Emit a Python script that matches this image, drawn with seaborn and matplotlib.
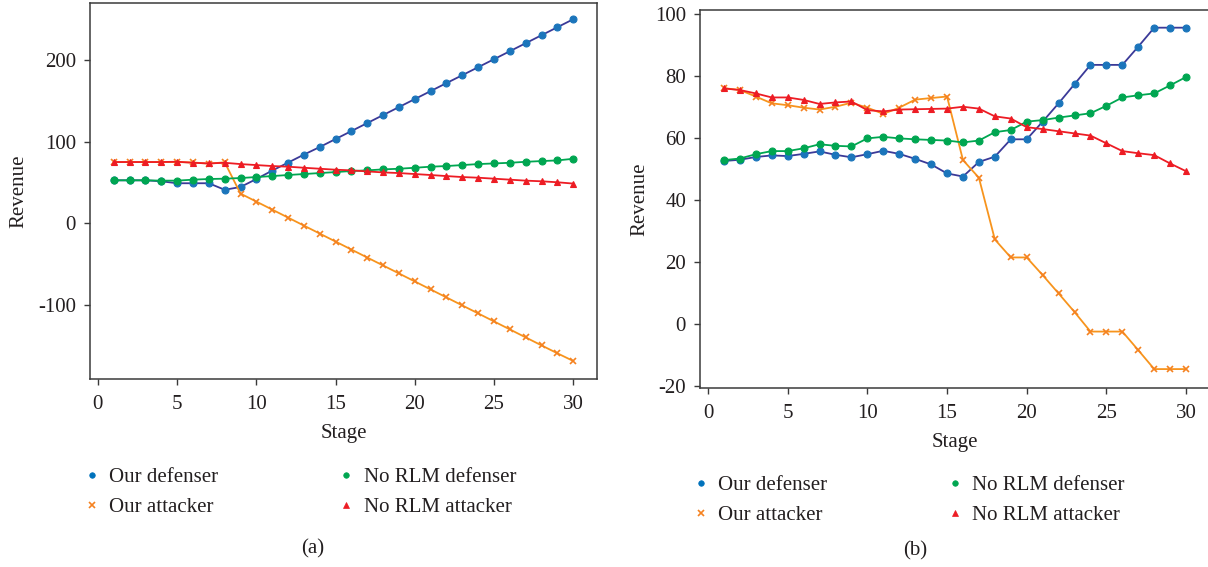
import numpy as np
import pandas as pd
import matplotlib
matplotlib.use("Agg")
import matplotlib.pyplot as plt
from matplotlib.lines import Line2D
import seaborn as sns

# ---------------- data ----------------
stages = list(range(1, 31))

a_our_def = [52.6, 52.6, 52.6, 51.4, 49, 49, 49, 41, 44.4, 54.2, 64.5, 74.3, 84.1, 93.4, 103.2,
             113, 122.8, 132.6, 142.4, 152.2, 162, 171.8, 181.5, 191.3, 201.1, 210.9, 220.7, 230.5, 240.3, 250.1]
a_our_att = [75, 75, 75, 75, 75, 74.5, 73, 74.7, 36.3, 26.5, 16.7, 6.9, -2.9, -12.7, -22.5,
             -32.3, -42.1, -51.8, -61.6, -71.4, -81.2, -91, -100.8, -110.6, -120.4, -130.2, -140, -149.8, -159.5, -168.9]
a_no_def = [52.6, 52.6, 52.6, 52.2, 52.2, 53.4, 54.2, 54.6, 55.4, 56.6, 57.8, 59.1, 60.3, 61.5, 62.7,
            64, 64.8, 66, 66.8, 68, 69.3, 70.1, 71.3, 72.5, 73.3, 74.1, 75.3, 76.2, 77, 79]
a_no_att = [75, 75, 75, 75, 75.4, 74.1, 73.3, 74.1, 72.5, 71.3, 70.1, 69.3, 68, 66.8, 65.6,
            64.8, 63.5, 62.3, 61.5, 60.3, 59.1, 57.8, 56.6, 55.8, 54.6, 53.4, 52.2, 51.4, 50.2, 48.6]

b_our_def = [52.6, 53, 53.9, 54.4, 54.2, 54.9, 55.7, 54.6, 53.8, 54.8, 55.9, 54.9, 53.3, 51.5, 48.6,
             47.6, 52.3, 54, 59.6, 59.6, 65.3, 71.2, 77.4, 83.6, 83.6, 83.6, 89.5, 95.6, 95.6, 95.6]
b_our_att = [76.1, 75.5, 73.4, 71.2, 70.6, 69.8, 69.2, 70.1, 71.4, 69.8, 67.8, 69.8, 72.4, 72.9, 73.4,
             52.9, 47.2, 27.3, 21.5, 21.5, 15.8, 9.9, 3.9, -2.4, -2.4, -2.4, -8.4, -14.5, -14.5, -14.5]
b_no_def = [52.9, 53.4, 54.8, 55.8, 55.8, 56.7, 58, 57.5, 57.3, 59.9, 60.4, 59.9, 59.6, 59.4, 59.2,
            58.6, 59.2, 61.9, 62.6, 65.3, 65.8, 66.6, 67.3, 68, 70.4, 73.1, 73.8, 74.4, 77, 79.7]
b_no_att = [76, 75.5, 74.4, 73.1, 73.1, 72.3, 71, 71.5, 71.8, 69, 68.6, 69.2, 69.3, 69.4, 69.5,
            70.1, 69.5, 67, 66.3, 63.5, 62.9, 62.2, 61.5, 60.8, 58.3, 55.8, 55.1, 54.5, 51.8, 49.3]

labels = ["Our defenser", "Our attacker", "No RLM defenser", "No RLM attacker"]
xticks = [0, 5, 10, 15, 20, 25, 30]
a_yticks = [-100, 0, 100, 200]
b_yticks = [-20, 0, 20, 40, 60, 80, 100]

# ---------------- style ----------------
sns.set_style("ticks")
plt.rcParams["font.family"] = ["Liberation Serif", "DejaVu Serif"]
plt.rcParams["axes.unicode_minus"] = False
plt.rcParams["axes.edgecolor"] = "#3a3a3a"
plt.rcParams["xtick.color"] = "#3a3a3a"
plt.rcParams["ytick.color"] = "#3a3a3a"
plt.rcParams["text.color"] = "#231f20"
plt.rcParams["axes.labelcolor"] = "#231f20"

TXT = "#231f20"
FS = 15
styles = [
    dict(color="#3b3a98", marker="o", markerfacecolor="#1b75bb", markeredgecolor="#1b75bb", markersize=5),
    dict(color="#f7941d", marker="x", markerfacecolor="#f7941d", markeredgecolor="#f58220", markersize=5, markeredgewidth=1.2),
    dict(color="#00a651", marker="o", markerfacecolor="#00a651", markeredgecolor="#00a651", markersize=5),
    dict(color="#ed1c24", marker="^", markerfacecolor="#ed1c24", markeredgecolor="#ed1c24", markersize=5),
]
leg_colors = ["#0072bc", "#f58220", "#00a651", "#ed1c24"]
leg_markers = ["o", "x", "o", "^"]

fig = plt.figure(figsize=(12.08, 5.67), dpi=100)
ax1 = fig.add_axes([90 / 1208, 1 - 379 / 567, 507 / 1208, 376 / 567])
ax2 = fig.add_axes([700 / 1208, 1 - 388 / 567, 510 / 1208, 378 / 567])

for ax, series, lp in [(ax1, [a_our_def, a_our_att, a_no_def, a_no_att], 7),
                       (ax2, [b_our_def, b_our_att, b_no_def, b_no_att], 4)]:
    for vals, st in zip(series, styles):
        kw = dict(st)
        kw.setdefault("markeredgewidth", 0.8)
        sns.lineplot(x=stages, y=vals, ax=ax, linewidth=1.3, legend=False, **kw)
    ax.set_xlim(-0.5, 31.5)
    ax.set_xticks(xticks)
    ax.set_xlabel("Stage", fontsize=FS, color=TXT, labelpad=7)
    ax.set_ylabel("Revenue", fontsize=FS, color=TXT, labelpad=lp)
    ax.tick_params(direction="out", length=4, width=1, labelsize=FS, labelcolor=TXT)
    ax.tick_params(axis="x", pad=7.5)
    ax.tick_params(axis="y", pad=6)
    for s in ax.spines.values():
        s.set_linewidth(1.1)

ax1.set_ylim(-191, 270)
ax1.set_yticks(a_yticks)
ax2.set_ylim(-20.6, 101.3)
ax2.set_yticks(b_yticks)

handles = [Line2D([], [], linestyle="none", marker=m, color=c, markersize=4, markeredgewidth=1.2 if m == "x" else 0.5)
           for m, c in zip(leg_markers, leg_colors)]

for x0, y0 in [(65 / 1208, 1 - 449 / 567), (674 / 1208, 1 - 457 / 567)]:
    leg = fig.legend(handles, labels, ncol=2, loc="upper left", bbox_to_anchor=(x0, y0),
                     frameon=False, fontsize=FS, handlelength=0.8, handletextpad=0.42,
                     columnspacing=5.75, labelspacing=0.5)
    for t in leg.get_texts():
        t.set_color(TXT)

fig.text(313 / 1208, 1 - 549 / 567, "(a)", ha="center", va="center", fontsize=FS, color=TXT)
fig.text(915 / 1208, 1 - 551 / 567, "(b)", ha="center", va="center", fontsize=FS, color=TXT)

fig.savefig("out.png", dpi=100)
